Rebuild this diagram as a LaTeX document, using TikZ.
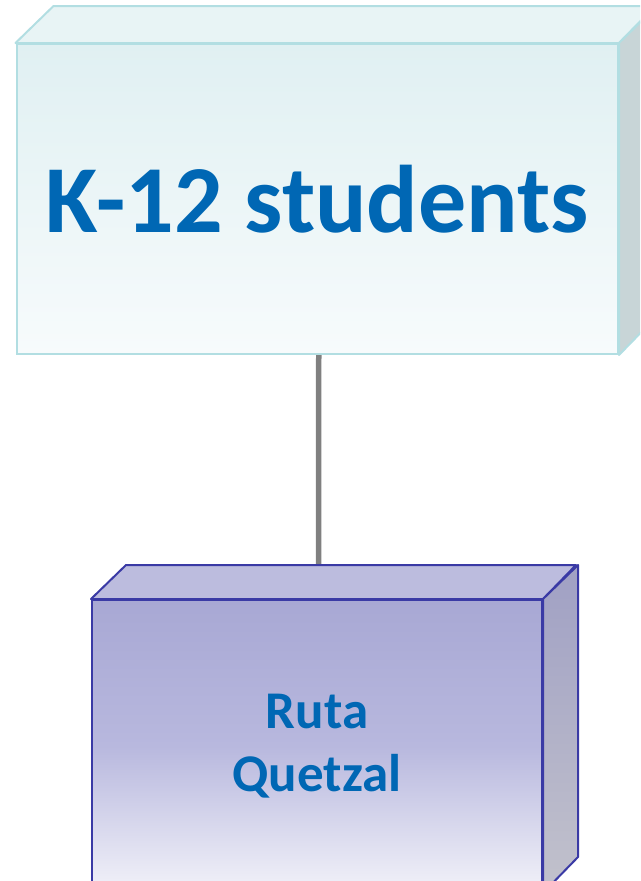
\documentclass[tikz,border=0pt]{standalone}
\usepackage{fontspec}
\setmainfont{Carlito}
\usetikzlibrary{backgrounds}
\definecolor{txtblue}{RGB}{0,103,180}
\definecolor{tealline}{RGB}{178,222,226}
\definecolor{tealtop}{RGB}{224,240,242}
\definecolor{tealbot}{RGB}{247,251,252}
\definecolor{tealface}{RGB}{232,244,245}
\definecolor{tealside}{RGB}{200,213,215}
\definecolor{navyline}{RGB}{58,58,165}
\definecolor{purtop}{RGB}{168,168,212}
\definecolor{purmid}{RGB}{184,184,222}
\definecolor{purbot}{RGB}{242,242,249}
\definecolor{purface}{RGB}{188,188,222}
\definecolor{pursidetop}{RGB}{160,160,196}
\definecolor{pursidebot}{RGB}{194,194,204}
\definecolor{connc}{RGB}{128,128,128}
\tikzset{
  boxa/.style={draw=tealline, line width=2pt, top color=tealtop, bottom color=tealbot,
    inner sep=0pt, text=txtblue, font=\fontsize{96}{96}\selectfont\bfseries},
  boxaface/.style={draw=tealline, line width=2pt, fill=tealface, line join=round},
  boxaside/.style={draw=tealline, line width=2pt, fill=tealside, line join=round},
  boxb/.style={draw=navyline, line width=2pt, top color=purtop, bottom color=purbot, middle color=purmid,
    inner sep=0pt, text=txtblue, align=center, font=\fontsize{53}{63}\selectfont\bfseries},
  boxbface/.style={draw=navyline, line width=2pt, fill=purface, line join=round},
  boxbside/.style={draw=navyline, line width=2pt, top color=pursidetop, bottom color=pursidebot, line join=round},
  conn/.style={draw=connc, line width=5.5pt}
}
\begin{document}
\begin{tikzpicture}[x=1pt,y=-1pt]
\useasboundingbox (0,0) rectangle (640,881);
\clip (0,0) rectangle (640,881);
% top box
\node[boxa, minimum width=601.5pt, minimum height=310pt] (k12) at (317.25,199) {K-12 students};
\draw[boxaface] (k12.north west) -- ++(38,-37) -- ++(601.5,0) -- (k12.north east) -- cycle;
\draw[boxaside] (k12.north east) -- ++(38,-37) -- ++(0,310) -- (k12.south east) -- cycle;
% bottom box
\node[boxb, minimum width=450pt, minimum height=292pt] (ruta) at (317,746) {Ruta\\Quetzal};
\draw[boxbface] (ruta.north west) -- ++(35,-34) -- ++(450,0) -- (ruta.north east) -- cycle;
\draw[boxbside] (ruta.north east) -- ++(35,-34) -- ++(0,292) -- (ruta.south east) -- cycle;
% connector
\begin{scope}[on background layer]
\draw[conn] ([xshift=1.5pt]k12.south) -- ([xshift=1.5pt]ruta.north);
\end{scope}
\end{tikzpicture}
\end{document}
